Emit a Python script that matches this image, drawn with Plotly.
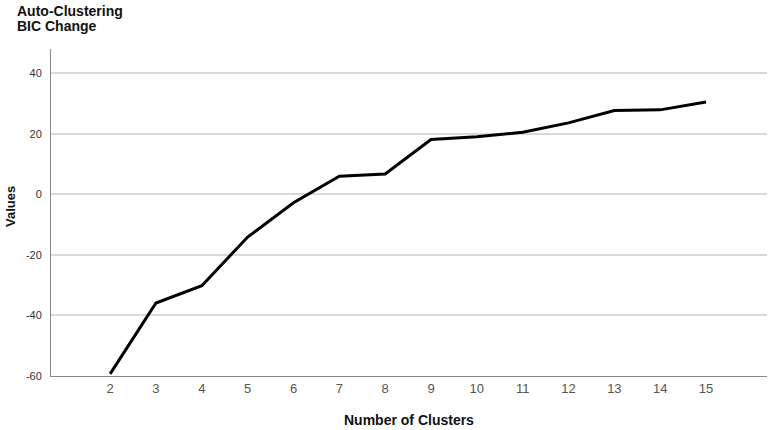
import plotly.graph_objects as go

clusters = [2, 3, 4, 5, 6, 7, 8, 9, 10, 11, 12, 13, 14, 15]
bic_change = [-59.3, -35.9, -30.2, -14.1, -2.8, 6.0, 6.7, 18.1, 19.0, 20.5, 23.6, 27.7, 27.9, 30.5]
y_ticks = [-60, -40, -20, 0, 20, 40]
y_tick_labels = ["-60", "-40", "-20", "0", "20", "40"]

W, H = 769, 430
L, T = 51, 49
R = W - 767
B = H - 376
PW, PH = W - L - R, H - T - B


def px_x(x):
    return (x - L) / PW


def px_y(y):
    return 1 - (y - T) / PH


fig = go.Figure()
fig.add_trace(go.Scatter(
    x=clusters, y=bic_change, mode="lines",
    line=dict(color="black", width=3), showlegend=False,
))

font = "Liberation Sans, Arial, sans-serif"
fig.update_layout(
    width=W, height=H,
    margin=dict(l=L, r=R, t=T, b=B),
    paper_bgcolor="white", plot_bgcolor="white",
    font=dict(family=font, color="#222"),
    xaxis=dict(
        range=[0.71, 16.33], tickvals=clusters, ticktext=[str(c) for c in clusters],
        showgrid=False, zeroline=False, showline=True, linecolor="#888", linewidth=1,
        ticks="", tickfont=dict(size=13, color="#555"),
    ),
    yaxis=dict(
        range=[-60, 48], tickvals=y_ticks, ticktext=y_tick_labels,
        showgrid=True, gridcolor="#d9d9d9", gridwidth=1.5, zeroline=False,
        showline=True, linecolor="#888", linewidth=1,
        ticks="", tickfont=dict(size=11, color="#333"), ticklabelstandoff=6,
    ),
    annotations=[
        dict(text="<b>Auto-Clustering</b>", xref="paper", yref="paper",
             x=px_x(15), y=px_y(1), xanchor="left", yanchor="top", showarrow=False,
             font=dict(size=14, color="#111", family=font)),
        dict(text="<b>BIC Change</b>", xref="paper", yref="paper",
             x=px_x(15), y=px_y(16), xanchor="left", yanchor="top", showarrow=False,
             font=dict(size=14, color="#111", family=font)),
        dict(text="<b>Number of Clusters</b>", xref="paper", yref="paper",
             x=0.5, y=px_y(420), xanchor="center", yanchor="middle",
             showarrow=False, font=dict(size=14, color="#111", family=font)),
        dict(text="<b>Values</b>", xref="paper", yref="paper", textangle=-90,
             x=px_x(10), y=px_y(207), xanchor="center", yanchor="middle",
             showarrow=False, font=dict(size=13, color="#111", family=font)),
    ],
)

fig.write_html("out.html", config={"displayModeBar": False},
               post_script="document.body.style.margin='0';")
